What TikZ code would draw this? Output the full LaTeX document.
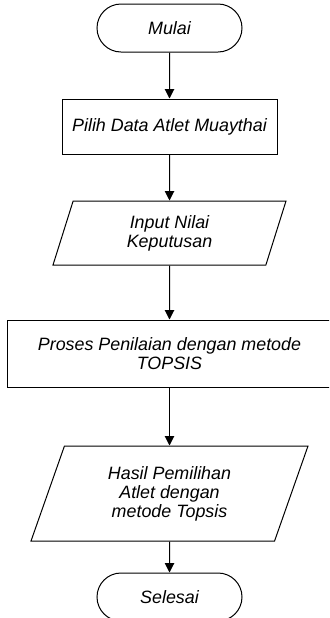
\documentclass[tikz,border=0pt]{standalone}
\usepackage{fontspec}
\setmainfont{Liberation Sans}
\usetikzlibrary{shapes.misc,shapes.geometric,arrows.meta}

\begin{document}
\begin{tikzpicture}[x=0.75pt,y=-0.75pt]
\tikzstyle{every node}=[font=\fontsize{13.4}{14.3}\selectfont\itshape,align=center,inner sep=0pt,line width=0.75pt]
\tikzstyle{terminal}=[rounded rectangle,draw,minimum width=108.75pt,minimum height=36pt]
\tikzstyle{kotak}=[rectangle,draw]
\tikzstyle{io}=[trapezium,trapezium stretches body,draw]
\tikzstyle{alur}=[-{Triangle[length=7pt,width=7pt]},line width=0.75pt]
\useasboundingbox (0,0) rectangle (329,618);
\clip (0,0) rectangle (329,618);
\node[terminal] (mulai) at (169.5,28) {Mulai};
\node[kotak,minimum width=161.25pt,minimum height=41.25pt] (pilih) at (169.5,126.5) {Pilih Data Atlet Muaythai};
\node[io,trapezium left angle=60.6,trapezium right angle=119.4,minimum width=174.75pt,minimum height=48pt] (input) at (169.5,233) {Input Nilai\\Keputusan};
\node[kotak,minimum width=243.75pt,minimum height=50.25pt] (proses) at (169.5,353.5) {Proses Penilaian dengan metode\\TOPSIS};
\node[io,trapezium left angle=58.6,trapezium right angle=121.4,minimum width=207.75pt,minimum height=71.25pt] (hasil) at (169.5,493.5) {Hasil Pemilihan\\Atlet dengan\\metode Topsis};
\node[terminal] (selesai) at (169.5,597) {Selesai};
\draw[alur] (mulai) -- (pilih);
\draw[alur] (pilih) -- (input);
\draw[alur] (input) -- (proses);
\draw[alur] (proses) -- (hasil);
\draw[alur] (hasil) -- (selesai);
\end{tikzpicture}
\end{document}
